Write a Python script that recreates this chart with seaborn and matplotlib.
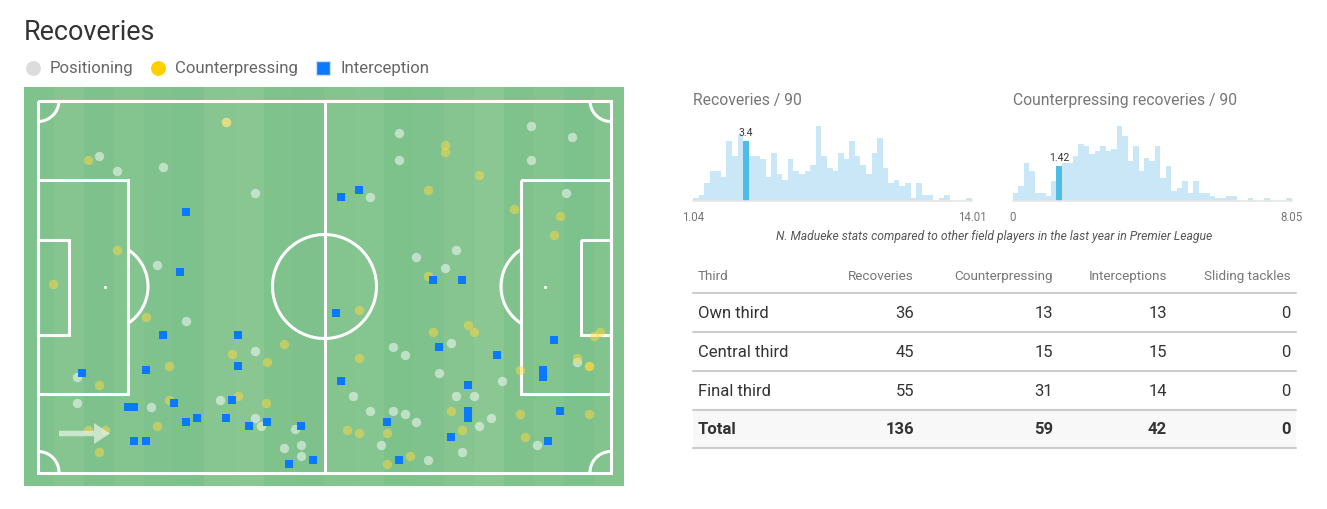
import matplotlib
matplotlib.use('Agg')
import matplotlib.pyplot as plt
import seaborn as sns
import numpy as np

sns.set_theme(style='white')
plt.rcParams['font.family'] = ['Roboto', 'DejaVu Sans']

# recovery locations, pitch units from the top left corner (573 x 372)
pos_x = [61.3, 78.7, 124.7, 217, 119, 148, 217, 38.7, 38.7, 113.3, 182, 217, 222.7, 257, 246, 263, 263,
         360.7, 360.7, 493, 533.7, 493, 528, 332, 378, 418.3, 407, 188,
         355, 366.7, 412.7, 401, 464.3, 314.7, 418.3, 435.7, 539, 332, 355, 366.7, 378, 453, 441.3,
         343.3, 499, 424, 389.7]
pos_y = [55, 70, 66.3, 92.7, 164, 220, 250, 276.3, 302.7, 306.3, 299, 317.3, 325, 328.7, 347.7, 344, 355,
         32.7, 59, 25, 36.3, 59, 92.7, 96.3, 156.3, 149, 167.7, 21.3,
         246.3, 254, 242.7, 272.7, 280, 295, 295, 295, 261.3, 310, 310, 313.7, 321.3, 317.7, 325,
         344, 344, 351.3, 359]

cp_x = [188, 50, 78.7, 15.3, 107.7, 246, 194, 228.7, 130.7, 61.3, 130.7, 199.7, 228.3, 119, 50, 67.3, 61.3,
        407, 407, 441.3, 389.7, 476, 522, 516, 389.7,
        320.7, 395.3, 430, 435.7, 562, 556.3, 539, 551, 551, 320.7, 481.7, 412.7, 481.7, 551,
        309, 320.7, 349.3, 424, 487.3, 372, 349.3]
cp_y = [21.3, 59, 149, 183, 216.3, 243, 253.7, 261.3, 265, 284, 299, 295, 302.7, 325, 329, 329, 351.7,
        44.3, 51.7, 74, 89, 108, 115.3, 134, 175,
        209, 231.3, 224, 231.3, 231.3, 235, 257.3, 265, 265, 257.7, 269, 310, 313.7, 313.7,
        329, 332.7, 332.7, 329, 336.3, 355, 363]

int_x = [148, 142, 125, 199.7, 199.7, 107.7, 44.3, 136.3, 194, 90.3, 96, 159.3, 148, 188, 211, 228.7, 263,
         96, 107.7, 274.7, 251.3, 320.7, 303.3, 395.3, 424,
         297.7, 516, 401, 459, 505, 505, 430, 303.3, 430, 430, 522, 349.3, 412.7, 510.3, 361]
int_y = [111.3, 171.3, 234.7, 234.7, 265, 269, 272.7, 302.7, 299, 306.3, 306.3, 317.7, 321.3, 317.7, 325, 321.3, 325,
         340.3, 340.3, 359, 363, 89, 96.3, 179, 179,
         212.7, 239, 246.3, 254, 269, 276.3, 284, 280, 310, 317.7, 310, 321.3, 336.3, 340, 359]

# distribution counts per bin
rec_counts = [1, 2, 6, 10, 10, 8, 20, 15, 22, 20, 15, 15, 14, 8, 16, 9, 7, 14, 10, 9, 10, 12, 25, 15, 11,
              10, 16, 14, 20, 15, 12, 9, 16, 21, 11, 6, 7, 5, 6, 1, 6, 2, 2, 0, 1, 2, 0, 0, 0, 1]
cp_counts = [3, 6, 15, 12, 3, 3, 2, 8, 14, 15, 15, 18, 23, 22, 19, 20, 22, 20, 21, 30, 26, 16, 22, 12, 17,
             16, 22, 9, 14, 4, 5, 8, 3, 8, 3, 3, 2, 1, 1, 2, 2, 0, 0, 1, 0, 0, 1, 0, 0, 0, 1]
rec_range = (1.04, 14.01)
cp_range = (0, 8.05)
rec_value = 3.4
cp_value = 1.42

# table
table_cols = ['Third', 'Recoveries', 'Counterpressing', 'Interceptions', 'Sliding tackles']
table_rows = ['Own third', 'Central third', 'Final third', 'Total']
recoveries = [36, 45, 55, 136]
counterpressing = [13, 15, 31, 59]
interceptions = [13, 15, 14, 42]
sliding = [0, 0, 0, 0]

W, H = 1327, 510
fig = plt.figure(figsize=(W / 100, H / 100), dpi=100, facecolor='white')


def px_axes(left, top, right, bottom):
    return fig.add_axes([left / W, 1 - bottom / H, (right - left) / W, (bottom - top) / H])


# overlay in pixel coordinates for titles, legend and table
over = fig.add_axes([0, 0, 1, 1], zorder=5)
over.axis('off')

over.text(24, 32, 'Recoveries', fontsize=19.4, color='#333333', va='center')
sns.scatterplot(x=[33], y=[68], s=115, color='#dcdcdc', linewidth=0, ax=over)
sns.scatterplot(x=[158], y=[68], s=115, color='#ffd000', linewidth=0, ax=over)
sns.scatterplot(x=[323], y=[68], s=100, color='#0a78ff', marker='s', edgecolor='#cfe0f5', linewidth=1, ax=over)
for lx, txt in zip([50, 175, 340], ['Positioning', 'Counterpressing', 'Interception']):
    over.text(lx, 68, txt, fontsize=12.1, color='#666666', va='center')

# pitch
ax = px_axes(24, 88, 624, 487)
ax.axis('off')

shades = ['#7fc28d', '#86c590', '#7ec18c', '#84c48e', '#7fc28d', '#7dc18c', '#88c691', '#89c691', '#7fc28c', '#7ec18c',
          '#84c48f', '#85c58f', '#7dc18b', '#7fc28d', '#86c590', '#8ac792', '#7fc28c', '#84c48e', '#7dc18c', '#83c48e']
edges = np.linspace(-14, 586, len(shades) + 1)
for i, c in enumerate(shades):
    ax.axvspan(edges[i], edges[i + 1], color=c, lw=0, zorder=0)

line = dict(color='white', lw=2.2, zorder=1, solid_capstyle='butt', solid_joinstyle='miter')
L, P = 573, 372


def box(x0, x1, y0, y1):
    ax.plot([x0, x1, x1, x0, x0], [y0, y0, y1, y1, y0], **line)


def arc(cx, cy, r, t0, t1):
    t = np.radians(np.linspace(t0, t1, 80))
    ax.plot(cx + r * np.cos(t), cy + r * np.sin(t), **line)


box(0, L, 0, P)
ax.plot([L / 2, L / 2], [0, P], **line)
box(0, 90, 79, 293)
box(L - 90, L, 79, 293)
box(0, 30.5, 139, 234)
box(L - 30.5, L, 139, 234)
arc(L / 2, P / 2, 52, 0, 360)
arc(66, P / 2, 44, -57, 57)
arc(L - 66, P / 2, 44, 123, 237)
arc(0, 0, 21, 0, 90)
arc(L, 0, 21, 90, 180)
arc(0, P, 21, -90, 0)
arc(L, P, 21, 180, 270)
ax.scatter([67, L - 66], [P / 2, P / 2], s=5, color='white', lw=0, zorder=1)

sns.scatterplot(x=pos_x, y=pos_y, s=46, color='white', alpha=0.5, linewidth=0, ax=ax, zorder=2)
sns.scatterplot(x=cp_x, y=cp_y, s=46, color='#ffd940', alpha=0.5, linewidth=0, ax=ax, zorder=3)
sns.scatterplot(x=int_x, y=int_y, s=40, color='#0a78ff', marker='s', linewidth=0, ax=ax, zorder=4)
ax.arrow(21, 333, 51, 0, width=5.5, head_width=21, head_length=16, length_includes_head=True,
         color='#e4f0e2', alpha=0.75, lw=0, zorder=5)
ax.set_xlim(-14, 586)
ax.set_ylim(385.5, -13.5)


# distributions
def draw_dist(left, right, counts, val_range, value, title, low, high):
    hx = px_axes(left, 127.3, right, 201.5)
    bins = np.linspace(val_range[0], val_range[1], len(counts) + 1)
    centers = (bins[:-1] + bins[1:]) / 2
    sns.histplot(x=centers, weights=counts, bins=list(bins), color='#c9e7f6', alpha=1, linewidth=0, ax=hx)
    idx = np.digitize(value, bins) - 1
    hx.patches[idx].set_facecolor('#4dbde8')
    hx.set_xlim(*val_range)
    hx.set_ylim(0, max(counts))
    hx.axis('off')
    hx.annotate(str(value), (centers[idx], counts[idx]), xytext=(0, 6.5), textcoords='offset points',
                ha='center', va='center', fontsize=7.5, color='#333333', annotation_clip=False)
    over.plot([left, right], [201, 201], color='#e6e6e6', lw=1.2)
    over.text(left, 99, title, fontsize=11.3, color='#777777', va='center')
    over.text(left, 217, low, fontsize=8.3, color='#777777', va='center', ha='center')
    over.text(right, 217, high, fontsize=8.3, color='#777777', va='center', ha='center')


draw_dist(693, 972, rec_counts, rec_range, rec_value, 'Recoveries / 90', '1.04', '14.01')
draw_dist(1012.7, 1291.7, cp_counts, cp_range, cp_value, 'Counterpressing recoveries / 90', '0', '8.05')
over.text(994.5, 236, 'N. Madueke stats compared to other field players in the last year in Premier League',
          fontsize=8.7, style='italic', color='#555555', ha='center', va='center')

# table
col_right = [914, 1053, 1167, 1291]
rule_y = [293, 332, 371, 410, 448]
row_y = [313, 352, 391, 429]
over.axhspan(410, 448, xmin=693 / W, xmax=1296 / W, color='#f8f8f8', lw=0, zorder=0)
for y in rule_y:
    over.plot([693, 1296], [y, y], color='#cccccc', lw=1.5, zorder=1)
over.text(698, 276, table_cols[0], fontsize=9.7, color='#777777', va='center')
for cx, txt in zip(col_right, table_cols[1:]):
    over.text(cx, 276, txt, fontsize=9.7, color='#777777', va='center', ha='right')
for r, name in enumerate(table_rows):
    weight = 'bold' if name == 'Total' else 'normal'
    over.text(698, row_y[r], name, fontsize=12, color='#333333', va='center', weight=weight)
    for cx, vals in zip(col_right, [recoveries, counterpressing, interceptions, sliding]):
        over.text(cx, row_y[r], str(vals[r]), fontsize=12, color='#333333', va='center', ha='right', weight=weight)

# overlay limits shifted one pixel down so the text sits where it should
over.set_xlim(0, W)
over.set_ylim(H - 1, -1)
fig.savefig('out.png', dpi=100)
